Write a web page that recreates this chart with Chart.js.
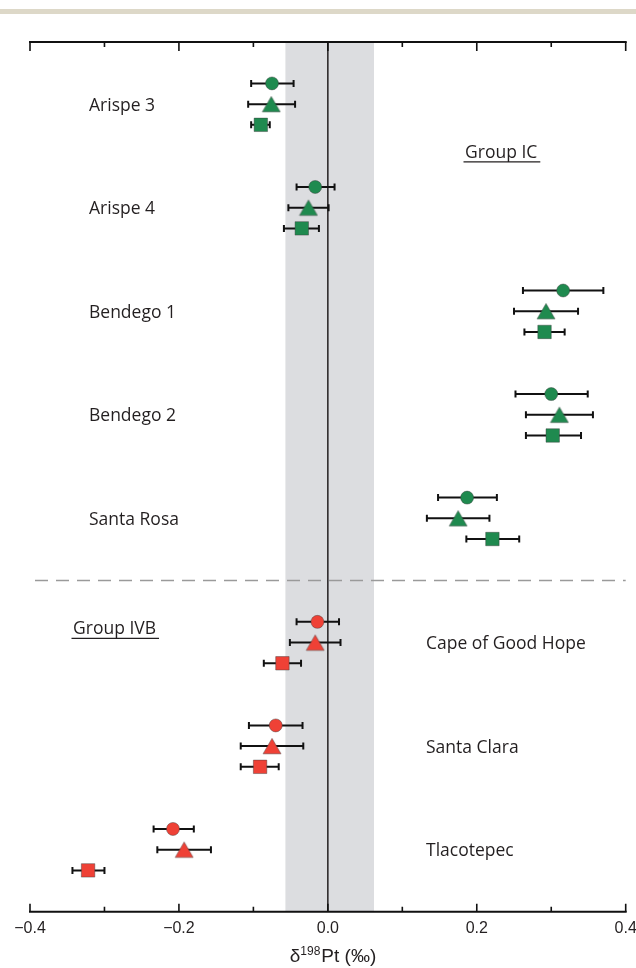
<!DOCTYPE html>
<html>
<head>
<meta charset="utf-8">
<script src="https://cdn.jsdelivr.net/npm/chart.js@4.4.0/dist/chart.umd.min.js"></script>
<style>
  html, body { margin: 0; padding: 0; background: #fff; }
</style>
</head>
<body>
<canvas id="myChart" width="636" height="968"></canvas>
<script>
'use strict';
// sample names and groups
const samples = ['Arispe 3', 'Arispe 4', 'Bendego 1', 'Bendego 2', 'Santa Rosa',
                 'Cape of Good Hope', 'Santa Clara', 'Tlacotepec'];
const groups = ['IC', 'IC', 'IC', 'IC', 'IC', 'IVB', 'IVB', 'IVB'];
// row of each sample (triangle row; circle one above, square one below)
const rowPos = [3, 8, 13, 18, 23, 29, 34, 39];

// circle series
const circleVal = [-0.075, -0.017, 0.316, 0.300, 0.187, -0.014, -0.070, -0.208];
const circleLo  = [-0.103, -0.042, 0.262, 0.252, 0.148, -0.042, -0.106, -0.234];
const circleHi  = [-0.046,  0.009, 0.370, 0.349, 0.227,  0.015, -0.034, -0.180];
// triangle series
const triVal = [-0.076, -0.026, 0.293, 0.311, 0.175, -0.017, -0.075, -0.193];
const triLo  = [-0.107, -0.053, 0.250, 0.266, 0.133, -0.051, -0.117, -0.229];
const triHi  = [-0.044,  0.001, 0.336, 0.356, 0.217,  0.017, -0.033, -0.157];
// square series
const sqVal = [-0.090, -0.035, 0.291, 0.302, 0.221, -0.061, -0.091, -0.322];
const sqLo  = [-0.103, -0.059, 0.264, 0.266, 0.186, -0.086, -0.117, -0.343];
const sqHi  = [-0.078, -0.012, 0.318, 0.340, 0.257, -0.036, -0.066, -0.300];

// grey band (reproducibility)
const bandLo = -0.057;
const bandHi = 0.062;

const xMin = -0.4, xMax = 0.4, xStep = 0.2;

const green = '#1f8a4f';
const red = '#ef4136';
const edge = 'rgba(60,60,60,0.55)';
const ink = '#231f20';

const fills = groups.map(g => g === 'IC' ? green : red);

// triangle centred on its bounding box
function makeTriangle(fill) {
  const c = document.createElement('canvas');
  c.width = 20; c.height = 18;
  const g = c.getContext('2d');
  g.beginPath();
  g.moveTo(10, 1.3);
  g.lineTo(19, 16.7);
  g.lineTo(1, 16.7);
  g.closePath();
  g.fillStyle = fill;
  g.fill();
  g.lineWidth = 0.8;
  g.strokeStyle = edge;
  g.stroke();
  return c;
}
const triGreen = makeTriangle(green);
const triRed = makeTriangle(red);

function points(vals, off) {
  return vals.map((v, i) => ({ x: v, y: rowPos[i] + off }));
}

const datasets = [
  {
    label: 'circle', data: points(circleVal, -1), errLo: circleLo, errHi: circleHi, off: -1,
    pointStyle: 'circle', pointRadius: 6.5, backgroundColor: fills, borderColor: edge, borderWidth: 0.8
  },
  {
    label: 'triangle', data: points(triVal, 0), errLo: triLo, errHi: triHi, off: 0,
    pointStyle: groups.map(g => g === 'IC' ? triGreen : triRed), pointRadius: 9,
    backgroundColor: fills, borderColor: edge, borderWidth: 0
  },
  {
    label: 'square', data: points(sqVal, 1), errLo: sqLo, errHi: sqHi, off: 1,
    pointStyle: 'rect', pointRadius: 9.5, backgroundColor: fills, borderColor: edge, borderWidth: 0.8
  }
];

const decoPlugin = {
  id: 'deco',
  beforeDraw(chart) {
    const ctx = chart.ctx;
    ctx.save();
    ctx.fillStyle = '#fff';
    ctx.fillRect(0, 0, chart.width, chart.height);
    ctx.fillStyle = '#ddd8c8';
    ctx.fillRect(0, 9, chart.width, 5);
    ctx.restore();
  },
  beforeDatasetsDraw(chart) {
    const { ctx, chartArea: a, scales: { x, y } } = chart;
    ctx.save();
    // grey band
    const b0 = x.getPixelForValue(bandLo), b1 = x.getPixelForValue(bandHi);
    ctx.fillStyle = '#dcdde0';
    ctx.fillRect(b0, a.top, b1 - b0, a.bottom - a.top);
    // zero line
    const x0 = x.getPixelForValue(0);
    ctx.strokeStyle = ink;
    ctx.lineWidth = 1.5;
    ctx.beginPath();
    ctx.moveTo(x0, a.top); ctx.lineTo(x0, a.bottom);
    ctx.stroke();
    // dashed separator between groups
    const ySep = y.getPixelForValue((rowPos[4] + rowPos[5]) / 2);
    ctx.strokeStyle = '#9a9a9a';
    ctx.lineWidth = 1.5;
    ctx.setLineDash([13, 8]);
    ctx.beginPath();
    ctx.moveTo(a.left + 5, ySep); ctx.lineTo(a.right, ySep);
    ctx.stroke();
    ctx.setLineDash([]);
    // error bars
    ctx.strokeStyle = '#111';
    ctx.lineWidth = 2;
    chart.data.datasets.forEach(ds => {
      ds.errLo.forEach((lo, i) => {
        const py = y.getPixelForValue(rowPos[i] + ds.off);
        const pl = x.getPixelForValue(lo), pr = x.getPixelForValue(ds.errHi[i]);
        ctx.beginPath();
        ctx.moveTo(pl, py); ctx.lineTo(pr, py);
        ctx.moveTo(pl, py - 3.5); ctx.lineTo(pl, py + 3.5);
        ctx.moveTo(pr, py - 3.5); ctx.lineTo(pr, py + 3.5);
        ctx.stroke();
      });
    });
    // top and bottom axes with inward ticks
    ctx.strokeStyle = '#111';
    ctx.lineWidth = 2;
    ctx.beginPath();
    ctx.moveTo(a.left - 1, a.top); ctx.lineTo(a.right + 1, a.top);
    ctx.moveTo(a.left - 1, a.bottom); ctx.lineTo(a.right + 1, a.bottom);
    ctx.stroke();
    ctx.lineWidth = 1.6;
    const majors = x.ticks.map(t => t.value);
    ctx.beginPath();
    majors.forEach((v, i) => {
      const px = x.getPixelForValue(v);
      ctx.moveTo(px, a.top); ctx.lineTo(px, a.top + 9);
      ctx.moveTo(px, a.bottom); ctx.lineTo(px, a.bottom - 8);
      if (i < majors.length - 1) {
        const pm = x.getPixelForValue((v + majors[i + 1]) / 2);
        ctx.moveTo(pm, a.top); ctx.lineTo(pm, a.top + 5);
        ctx.moveTo(pm, a.bottom); ctx.lineTo(pm, a.bottom - 5);
      }
    });
    ctx.stroke();
    ctx.restore();
  },
  afterDraw(chart) {
    const { ctx, chartArea: a, scales: { y } } = chart;
    ctx.save();
    ctx.fillStyle = ink;
    ctx.strokeStyle = ink;
    ctx.textBaseline = 'alphabetic';
    ctx.textAlign = 'left';
    ctx.font = '17.5px "Open Sans"';
    // sample names
    samples.forEach((s, i) => {
      const py = y.getPixelForValue(rowPos[i]) + 6.5;
      const px = groups[i] === 'IC' ? a.left + 59 : a.left + 396;
      ctx.fillText(s, px, py);
    });
    // group titles, underlined
    const titles = [
      { t: 'Group IC', x: a.left + 435, row: 5.6 },
      { t: 'Group IVB', x: a.left + 43, row: 28.6 }
    ];
    ctx.lineWidth = 1.3;
    titles.forEach(g => {
      const py = y.getPixelForValue(g.row);
      ctx.fillText(g.t, g.x, py);
      const w = ctx.measureText(g.t).width;
      ctx.beginPath();
      ctx.moveTo(g.x - 1.5, py + 4); ctx.lineTo(g.x + w + 3, py + 4);
      ctx.stroke();
    });
    // axis title  δ198Pt (‰)
    const big = '19px "Liberation Sans"', small = '12px "Liberation Sans"';
    ctx.font = big;
    const wD = ctx.measureText('\u03b4').width;
    const wR = ctx.measureText('Pt (\u2030)').width;
    ctx.font = small;
    const wS = ctx.measureText('198').width;
    let tx = 333 - (wD + wS + wR + 1) / 2;
    const ty = 962;
    ctx.font = big;
    ctx.fillText('\u03b4', tx, ty); tx += wD;
    ctx.font = small;
    ctx.fillText('198', tx, ty - 7); tx += wS + 1;
    ctx.font = big;
    ctx.fillText('Pt (\u2030)', tx, ty);
    ctx.restore();
  }
};

const config = {
  type: 'scatter',
  data: { datasets: datasets },
  options: {
    responsive: false,
    animation: false,
    layout: { padding: { left: 30, right: 10, top: 42, bottom: 23 } },
    plugins: { legend: { display: false }, tooltip: { enabled: false } },
    scales: {
      x: {
        type: 'linear',
        min: xMin, max: xMax,
        grid: { display: false, drawTicks: false },
        border: { display: false },
        afterFit(scale) { scale.paddingLeft = 0; scale.paddingRight = 0; },
        ticks: {
          stepSize: xStep,
          padding: 7,
          color: ink,
          font: { family: '"Liberation Sans", Arial, sans-serif', size: 16 },
          callback: v => (v < -1e-9 ? '\u2212' : '') + Math.abs(v).toFixed(1)
        }
      },
      y: {
        type: 'linear',
        display: false,
        min: 0, max: 42,
        reverse: true
      }
    }
  },
  plugins: [decoPlugin]
};

const myChart = new Chart(document.getElementById('myChart'), config);
</script>
</body>
</html>
